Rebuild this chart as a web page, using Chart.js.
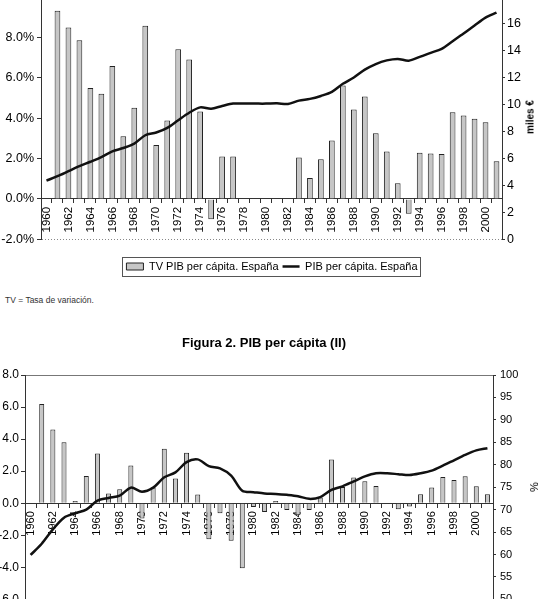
<!DOCTYPE html>
<html lang="es">
<head>
<meta charset="utf-8">
<title>PIB per cápita</title>
<script src="https://cdn.jsdelivr.net/npm/chart.js@4.4.1/dist/chart.umd.min.js"></script>
<style>
  html, body { margin: 0; padding: 0; background: #fff; }
  body { width: 544px; height: 599px; overflow: hidden; position: relative; font-family: "Liberation Sans", Arial, sans-serif; }
  .caja { position: absolute; left: 0; width: 544px; }
  #caja1 { top: -20px; height: 310px; }
  #caja2 { top: 320px; height: 290px; }
  .nota { position: absolute; left: 5px; top: 295px; font-size: 8.5px; color: #333; }
  .tituloEje { position: absolute; white-space: nowrap; color: #000; transform: translate(-50%, -50%) rotate(-90deg); }
  #ejeMiles { left: 530px; top: 117px; font-size: 10px; font-weight: bold; }
  #ejePct { left: 534px; top: 487px; font-size: 11px; }
</style>
</head>
<body>
<div class="caja" id="caja1"><canvas id="grafico1"></canvas></div>
<div class="tituloEje" id="ejeMiles">miles €</div>
<div class="nota">TV = Tasa de variación.</div>
<div class="caja" id="caja2"><canvas id="grafico2"></canvas></div>
<div class="tituloEje" id="ejePct">%</div>

<script>
// Datos (1960-2001)
const anios = ['1960','1961','1962','1963','1964','1965','1966','1967','1968','1969',
               '1970','1971','1972','1973','1974','1975','1976','1977','1978','1979',
               '1980','1981','1982','1983','1984','1985','1986','1987','1988','1989',
               '1990','1991','1992','1993','1994','1995','1996','1997','1998','1999',
               '2000','2001'];

// Figura 1: tasa de variación (%) y PIB per cápita (miles €)
const tvPibEspana = [null, 9.32, 8.49, 7.86, 5.49, 5.21, 6.58, 3.10, 4.51, 8.57,
                     2.67, 3.88, 7.41, 6.90, 4.33, -1.01, 2.10, 2.10, null, null,
                     null, null, null, 2.05, 1.03, 1.97, 2.89, 5.62, 4.43, 5.07,
                     3.25, 2.35, 0.78, -0.73, 2.29, 2.25, 2.22, 4.29, 4.13, 3.97,
                     3.80, 1.86];
const pibEspana = [4.36, 4.69, 5.06, 5.43, 5.76, 6.11, 6.53, 6.78, 7.11, 7.73,
                   7.93, 8.28, 8.85, 9.40, 9.80, 9.70, 9.90, 10.08, 10.08, 10.08,
                   10.08, 10.10, 10.05, 10.30, 10.43, 10.65, 10.95, 11.55, 12.02, 12.60,
                   13.02, 13.29, 13.40, 13.27, 13.55, 13.85, 14.15, 14.72, 15.29, 15.89,
                   16.47, 16.84];

// Figura 2: PIB per cápita (II)
const tvPib2 = [null, 6.19, 4.60, 3.81, 0.14, 1.70, 3.11, 0.60, 0.87, 2.36,
                -0.95, 0.98, 3.40, 1.55, 3.15, 0.54, -2.24, -0.62, -2.34, -4.06,
                -0.23, -0.54, 0.14, -0.42, -0.75, -0.42, 0.35, 2.73, 1.01, 1.60,
                1.37, 1.08, null, -0.37, -0.20, 0.56, 0.98, 1.63, 1.45, 1.68,
                1.06, 0.56];
const pib2 = [59.9, 62.4, 65.6, 68.2, 69.2, 70.0, 72.0, 72.6, 73.1, 74.9,
              74.0, 74.9, 77.2, 78.3, 80.6, 81.2, 79.7, 79.2, 77.6, 74.2,
              73.9, 73.6, 73.5, 73.3, 73.0, 72.4, 72.8, 74.4, 75.2, 76.3,
              77.4, 78.1, 78.1, 77.9, 77.7, 78.1, 78.7, 79.8, 81.0, 82.2,
              83.2, 83.7];

// Ticks de los ejes
const ejeIzq1 = { min: -2, max: 10, paso: 2 };
const ejeDer1 = { min: 0, max: 18, paso: 2 };
const ejeIzq2 = { min: -6, max: 8, paso: 2 };
const ejeDer2 = { min: 50, max: 100, paso: 5 };

const fuente = '"Liberation Sans", Arial, sans-serif';
const colorBarra = '#c6c6c6';
const colorBordeBarra = '#222';
const colorEje = '#333';

// Marco alrededor de la leyenda (como en Excel)
const marcoLeyenda = {
    id: 'marcoLeyenda',
    afterDraw(chart) {
        const leg = chart.legend;
        if (!leg || !leg.options.display || !leg.legendHitBoxes || leg.legendHitBoxes.length === 0) return;
        let x0 = Infinity, y0 = Infinity, x1 = -Infinity, y1 = -Infinity;
        leg.legendHitBoxes.forEach(b => {
            x0 = Math.min(x0, b.left);
            y0 = Math.min(y0, b.top);
            x1 = Math.max(x1, b.left + b.width);
            y1 = Math.max(y1, b.top + b.height);
        });
        const ctx = chart.ctx;
        ctx.save();
        ctx.strokeStyle = '#555';
        ctx.lineWidth = 1;
        ctx.strokeRect(Math.round(x0 - 4) + 0.5, Math.round(y0 - 4) + 0.5, Math.round(x1 - x0 + 7), Math.round(y1 - y0 + 8));
        ctx.restore();
    }
};

// Eje X de años colocado sobre la línea del 0
function ejeAnios(tamFuente) {
    return {
        type: 'category',
        position: { y: 0 },
        offset: true,
        grid: { display: true, drawOnChartArea: false, offset: true, tickLength: 4, tickColor: colorEje, tickWidth: 1 },
        border: { display: true, color: colorEje, width: 1 },
        ticks: {
            autoSkip: false,
            minRotation: 90,
            maxRotation: 90,
            padding: 4,
            color: '#000',
            font: { family: fuente, size: tamFuente },
            callback: function(valor, i) {
                return i % 2 === 0 ? this.getLabelForValue(valor) : '';
            }
        }
    };
}

const config1 = {
    type: 'bar',
    data: {
        labels: anios,
        datasets: [{
            type: 'bar',
            label: 'TV PIB per cápita. España',
            data: tvPibEspana,
            yAxisID: 'y',
            backgroundColor: colorBarra,
            borderColor: colorBordeBarra,
            borderWidth: 1,
            barPercentage: 0.52,
            categoryPercentage: 1,
            pointStyle: 'rect',
            order: 2
        }, {
            type: 'line',
            label: 'PIB per cápita. España',
            data: pibEspana,
            yAxisID: 'y1',
            borderColor: '#111',
            backgroundColor: '#111',
            borderWidth: 2.5,
            pointRadius: 0,
            tension: 0.3,
            pointStyle: 'line',
            order: 1
        }]
    },
    options: {
        responsive: true,
        maintainAspectRatio: false,
        animation: false,
        events: [],
        layout: { padding: { top: 17, bottom: 8, left: 0, right: 0 } },
        plugins: {
            tooltip: { enabled: false },
            legend: {
                display: true,
                position: 'bottom',
                title: { display: true, text: '', font: { size: 1 }, padding: { top: 16.5, bottom: 0 } },
                labels: {
                    usePointStyle: true,
                    pointStyleWidth: 17,
                    boxHeight: 7,
                    padding: 4,
                    color: '#000',
                    font: { family: fuente, size: 11 },
                    sort: (a, b) => a.datasetIndex - b.datasetIndex
                }
            }
        },
        scales: {
            x: ejeAnios(11.5),
            y: {
                position: 'left',
                min: ejeIzq1.min,
                max: ejeIzq1.max,
                afterFit: (s) => { s.width = 41; },
                ticks: {
                    stepSize: ejeIzq1.paso,
                    padding: 3,
                    color: '#000',
                    font: { family: fuente, size: 12.5 },
                    callback: (v) => v.toFixed(1) + '%'
                },
                grid: {
                    drawOnChartArea: true,
                    color: (c) => (c.tick && c.tick.value === ejeIzq1.min) ? '#888' : 'rgba(0,0,0,0)',
                    tickColor: colorEje,
                    tickLength: 4
                },
                border: { display: true, color: colorEje, width: 1, dash: [1, 2] }
            },
            y1: {
                position: 'right',
                min: ejeDer1.min,
                max: ejeDer1.max,
                afterFit: (s) => { s.width = 42; },
                ticks: {
                    stepSize: ejeDer1.paso,
                    padding: 2,
                    color: '#000',
                    font: { family: fuente, size: 12.5 }
                },
                grid: { drawOnChartArea: false, tickColor: colorEje, tickLength: 3 },
                border: { display: true, color: colorEje, width: 1 }
            }
        }
    },
    plugins: [marcoLeyenda]
};

const config2 = {
    type: 'bar',
    data: {
        labels: anios,
        datasets: [{
            type: 'bar',
            label: 'TV PIB per cápita',
            data: tvPib2,
            yAxisID: 'y',
            backgroundColor: colorBarra,
            borderColor: colorBordeBarra,
            borderWidth: 1,
            barPercentage: 0.45,
            categoryPercentage: 1,
            order: 2
        }, {
            type: 'line',
            label: 'PIB per cápita',
            data: pib2,
            yAxisID: 'y1',
            borderColor: '#111',
            borderWidth: 2.5,
            pointRadius: 0,
            tension: 0.3,
            order: 1
        }]
    },
    options: {
        responsive: true,
        maintainAspectRatio: false,
        animation: false,
        events: [],
        layout: { padding: { top: 0, bottom: 9.5, left: 0, right: 16 } },
        plugins: {
            tooltip: { enabled: false },
            legend: { display: false },
            title: {
                display: true,
                text: 'Figura 2. PIB per cápita (II)',
                color: '#000',
                font: { family: fuente, size: 13, weight: 'bold' },
                padding: { top: 15.2, bottom: 24.2 }
            }
        },
        scales: {
            x: ejeAnios(11),
            y: {
                position: 'left',
                min: ejeIzq2.min,
                max: ejeIzq2.max,
                afterFit: (s) => { s.width = 25; },
                ticks: {
                    stepSize: ejeIzq2.paso,
                    padding: 2,
                    color: '#000',
                    font: { family: fuente, size: 12 },
                    callback: (v) => v.toFixed(1)
                },
                grid: {
                    drawOnChartArea: true,
                    color: (c) => (c.tick && c.tick.value === ejeIzq2.max) ? '#777' : 'rgba(0,0,0,0)',
                    tickColor: colorEje,
                    tickLength: 4
                },
                border: { display: true, color: colorEje, width: 1 }
            },
            y1: {
                position: 'right',
                min: ejeDer2.min,
                max: ejeDer2.max,
                afterFit: (s) => { s.width = 35; },
                ticks: {
                    stepSize: ejeDer2.paso,
                    padding: 4,
                    color: '#000',
                    font: { family: fuente, size: 11 }
                },
                grid: { drawOnChartArea: false, tickColor: colorEje, tickLength: 3 },
                border: { display: true, color: colorEje, width: 1 }
            }
        }
    }
};

new Chart(document.getElementById('grafico1'), config1);
new Chart(document.getElementById('grafico2'), config2);
</script>
</body>
</html>
